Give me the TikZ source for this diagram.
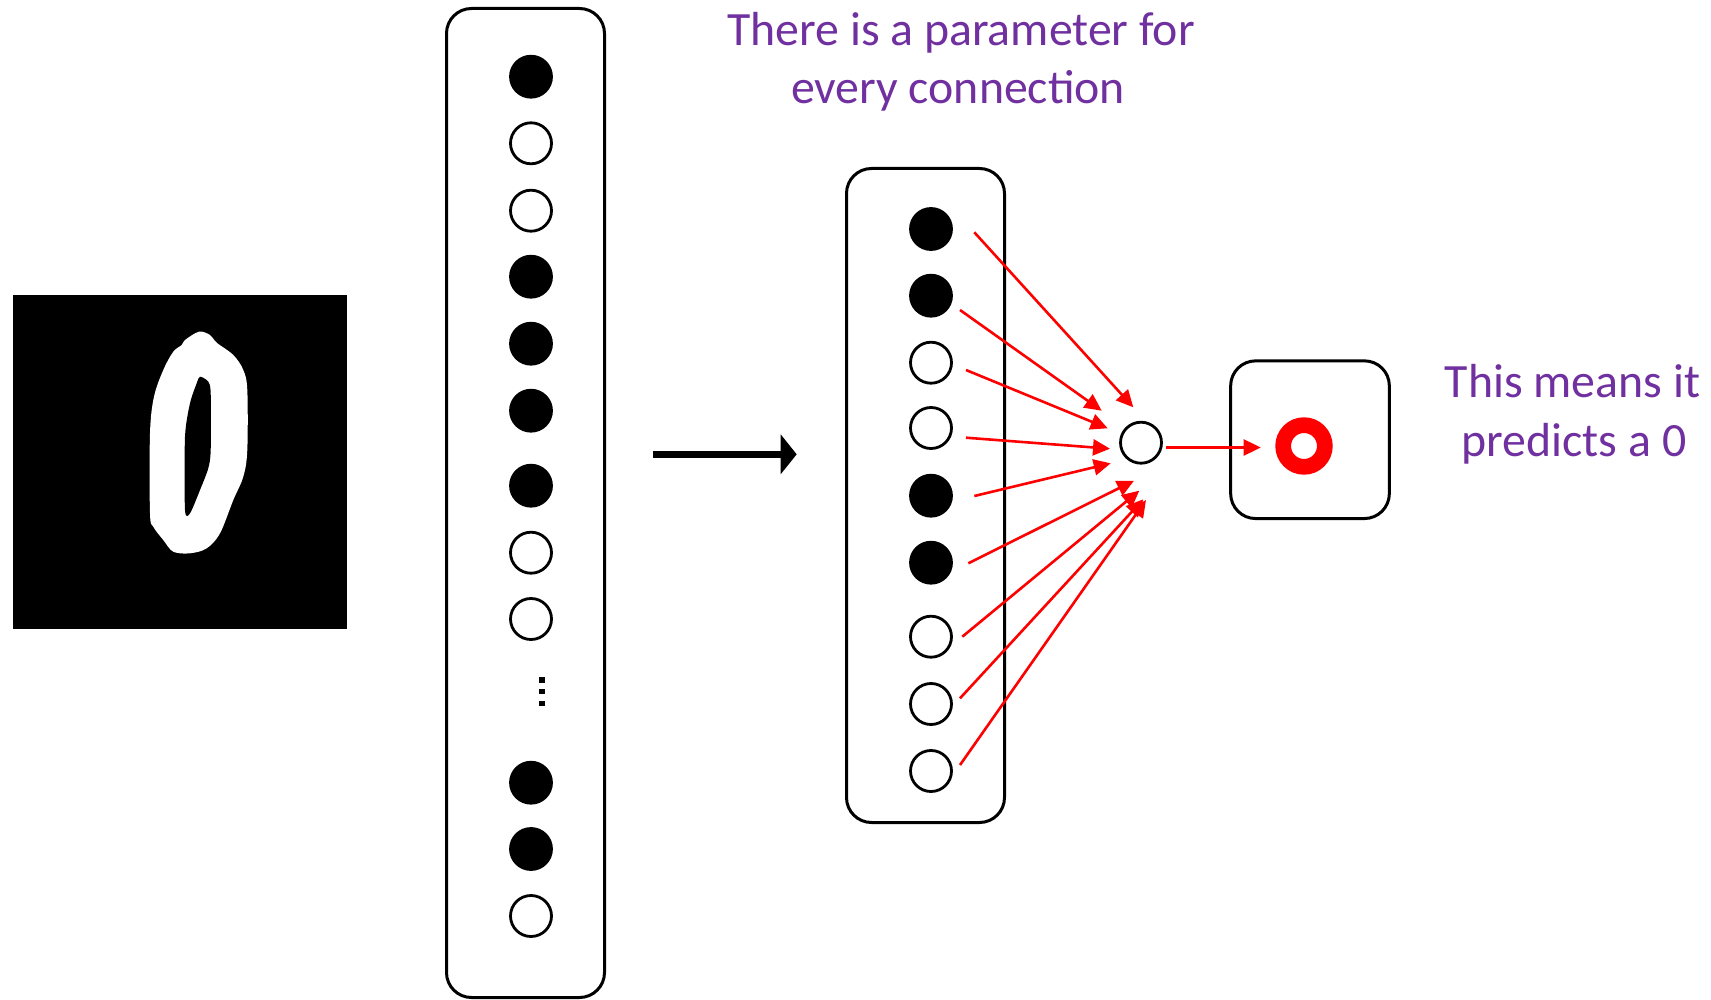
\documentclass[tikz,border=0pt]{standalone}
\usepackage{fontspec}
\setmainfont{Carlito}
\usetikzlibrary{arrows.meta}
\definecolor{txtpurple}{RGB}{112,48,160}
\begin{document}
\begin{tikzpicture}[x=1pt,y=-1pt,
  layerbox/.style={draw=black, line width=3pt, rounded corners=25pt, inner sep=0pt},
  dotfull/.style={circle, inner sep=0pt, minimum size=41pt, draw=black, line width=2.8pt, fill=black},
  dotopen/.style={circle, inner sep=0pt, minimum size=41pt, draw=black, line width=2.8pt, fill=white},
  conn/.style={draw=red, line width=2.6pt, -{Triangle[length=17pt,width=16pt]}},
  bigarrow/.style={draw=black, line width=7.5pt, -{Triangle[length=16pt,width=39pt]}},
  purpletext/.style={text=txtpurple, font=\fontsize{47.8}{56}\selectfont, anchor=base, inner sep=0pt}]
\useasboundingbox (0,0) rectangle (1711,1000);

% input image
\node[fill=black, minimum size=334pt, inner sep=0pt] (img) at (180,462) {};
\fill[white] plot[smooth cycle, tension=0.55] coordinates {
 (185,340) (199,331.7) (210,335) (216.7,342.7) (233.3,355) (243.3,370)
 (247.3,390) (247.3,450) (243.3,476.7) (233.3,500) (220,533.3) (206.7,548.3)
 (190,553.3) (173.3,551.7) (163.3,540) (153.3,526.7) (150,513.3) (150,433.3)
 (154,396.7) (163.3,370) (173.3,351.7) (181.7,345)};
\fill[black] plot[smooth cycle, tension=0.45] coordinates {
 (200,376.7) (208.3,381.7) (210.7,393.3) (210.7,450) (208.3,468.3) (200,490)
 (190,513.3) (185,510) (185,436.7) (190,403.3) (196.7,383.3)};

% input layer
\node[layerbox, minimum width=158pt, minimum height=989pt] (inbox) at (525.5,503) {};
\node[dotfull] (in1) at (531,76.7) {};
\node[dotopen] (in2) at (531,143.3) {};
\node[dotopen] (in3) at (531,210.7) {};
\node[dotfull] (in4) at (531,276.7) {};
\node[dotfull] (in5) at (531,343.7) {};
\node[dotfull] (in6) at (531,410.7) {};
\node[dotfull] (in7) at (531,485.7) {};
\node[dotopen] (in8) at (531,552.7) {};
\node[dotopen] (in9) at (531,619) {};
\fill[black] (539.3,677.3) rectangle (544.7,682.7);
\fill[black] (539.3,689) rectangle (544.7,694.4);
\fill[black] (539.3,700.7) rectangle (544.7,706.1);
\node[dotfull] (in10) at (531,782.7) {};
\node[dotfull] (in11) at (531,849) {};
\node[dotopen] (in12) at (531,916) {};

% big arrow
\coordinate (a0) at (652.7,454.3);
\coordinate (a1) at (796.7,454.3);
\draw[bigarrow] (a0) -- (a1);

% middle layer
\node[layerbox, minimum width=158pt, minimum height=654pt] (midbox) at (925.5,495.5) {};
\node[dotfull] (m1) at (931,229) {};
\node[dotfull] (m2) at (931,295.7) {};
\node[dotopen] (m3) at (931,362.7) {};
\node[dotopen] (m4) at (931,428) {};
\node[dotfull] (m5) at (931,495.7) {};
\node[dotfull] (m6) at (931,562.7) {};
\node[dotopen] (m7) at (931,636.7) {};
\node[dotopen] (m8) at (931,704) {};
\node[dotopen] (m9) at (931,771) {};

% output neuron
\node[dotopen] (out) at (1141,442.7) {};

% connections
\coordinate (s1) at (974.3,232.3); \coordinate (t1) at (1133.3,407.3);
\coordinate (s2) at (960,310);     \coordinate (t2) at (1101.7,410.7);
\coordinate (s3) at (966,370);     \coordinate (t3) at (1107.7,428.3);
\coordinate (s4) at (966,437.7);   \coordinate (t4) at (1110,448.7);
\coordinate (s5) at (974.3,496);   \coordinate (t5) at (1110.7,463.3);
\coordinate (s6) at (968.3,563.3); \coordinate (t6) at (1134,480.7);
\coordinate (s7) at (962.3,636.7); \coordinate (t7) at (1139.3,490.7);
\coordinate (s8) at (960,698.3);   \coordinate (t8) at (1143.3,499.3);
\coordinate (s9) at (960,765);     \coordinate (t9) at (1146,500);
\foreach \i in {1,...,9} { \draw[conn] (s\i) -- (t\i); }

% output box
\node[layerbox, minimum width=158.7pt, minimum height=157.7pt] (outbox) at (1310,439.7) {};
\node[circle, draw=red, line width=15.7pt, minimum size=41.7pt, inner sep=0pt] (ring) at (1304,446) {};
\coordinate (o0) at (1166,447.5);
\coordinate (o1) at (1260.7,447.5);
\draw[conn] (o0) -- (o1);

% texts
\node[purpletext] (tA1) at (961,46) {There is a parameter for};
\node[purpletext] (tA2) at (958,104) {every connection};
\node[purpletext] (tB1) at (1572.5,397) {This means it};
\node[purpletext] (tB2) at (1574,456) {predicts a 0};
\end{tikzpicture}
\end{document}
